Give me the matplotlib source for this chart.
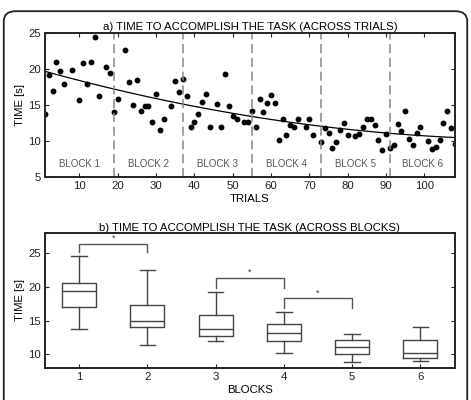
import numpy as np
import matplotlib
matplotlib.use("Agg")
import matplotlib.pyplot as plt
from matplotlib.patches import FancyBboxPatch

plt.rcParams['font.family'] = ['Liberation Sans', 'DejaVu Sans']

# time per trial (trials hidden in the picture are left out)
trials = [1, 2, 3, 4, 5, 6, 8, 10, 11, 12, 13, 14, 15, 17, 18, 19, 20, 22, 23, 24,
          25, 26, 27, 28, 29, 30, 31, 32, 34, 35, 36, 37, 38, 39, 40, 41, 42, 43, 44, 46,
          47, 48, 49, 50, 51, 53, 54, 55, 56, 57, 58, 59, 60, 61, 62, 63, 64, 65, 66, 67,
          69, 70, 71, 73, 74, 75, 76, 77, 78, 79, 80, 82, 83, 84, 85, 86, 87, 88, 89, 90,
          91, 92, 93, 94, 95, 96, 97, 98, 99, 101, 102, 103, 104, 105, 106, 107, 108]
times = [13.8, 19.1, 16.9, 21.0, 19.7, 17.9, 19.8, 15.7, 20.9, 17.85, 21.0, 24.5, 16.2, 20.3, 19.4, 14.0, 15.9, 22.6, 18.2, 15.0,
         18.45, 14.1, 14.8, 14.8, 12.7, 16.5, 11.5, 13.0, 14.9, 18.35, 16.8, 18.6, 16.3, 12.0, 12.7, 13.7, 15.4, 16.5, 12.0, 15.2,
         12.0, 19.3, 14.9, 13.5, 13.1, 12.6, 12.6, 14.1, 11.9, 15.9, 14.05, 15.3, 16.4, 15.3, 10.2, 13.0, 10.8, 12.2, 11.9, 13.0,
         11.9, 13.1, 10.8, 9.85, 11.8, 11.15, 9.05, 9.9, 11.5, 12.5, 10.8, 10.65, 10.95, 11.95, 13.0, 13.0, 12.2, 10.15, 8.75, 11.0,
         9.05, 9.4, 12.3, 11.35, 14.2, 10.3, 9.4, 11.1, 12.0, 10.0, 8.95, 9.2, 10.15, 12.55, 14.2, 11.85, 9.55]

block_edges = [19, 37, 55, 73, 91]
block_names = ["BLOCK 1", "BLOCK 2", "BLOCK 3", "BLOCK 4", "BLOCK 5", "BLOCK 6"]

# box statistics per block
blocks = [1, 2, 3, 4, 5, 6]
box_lo = [13.8, 11.4, 12.0, 10.15, 8.85, 9.0]
box_q1 = [17.05, 14.0, 12.7, 11.9, 10.05, 9.4]
box_med = [19.45, 15.0, 13.7, 13.1, 11.15, 10.25]
box_q3 = [20.65, 17.4, 15.85, 14.55, 12.1, 12.1]
box_hi = [24.6, 22.5, 19.3, 16.3, 13.0, 14.05]

# significance brackets (from block, to block, bar height, leg bottom)
sig_from = [1, 3, 4]
sig_to = [2, 4, 5]
sig_top = [26.4, 21.4, 18.3]
sig_leg = [25.2, 19.9, 16.9]

fig = plt.figure(figsize=(4.71, 4.0), dpi=100)
fig.patches.append(FancyBboxPatch((0.008, -0.05), 0.984, 1.022, boxstyle="round,pad=0,rounding_size=0.025",
                                  transform=fig.transFigure, fill=False, edgecolor="#222222", linewidth=1.3))

tick_fs = 8.2
# ---- a) across trials
ax1 = fig.add_axes([0.0955, 0.5575, 0.8705, 0.36])
ax1.plot(trials, times, 'o', color='black', markersize=3.2)
coef = np.polyfit(trials, times, 2)  # quadratic trend over all trials
xx = np.linspace(1, 108, 200)
ax1.plot(xx, np.polyval(coef, xx), color='black', linewidth=0.9)
for e in block_edges:
    ax1.axvline(e, color='#888888', linestyle=(0, (6, 3)), linewidth=1.1)
starts = [1] + block_edges
ends = block_edges + [108]
for s, e, name in zip(starts, ends, block_names):
    ax1.text((s + e) / 2, 6.8, name, ha='center', va='center', fontsize=7, color='#555555')
ax1.set_xlim(1, 108)
ax1.set_ylim(5, 25)
ax1.set_xticks([10, 20, 30, 40, 50, 60, 70, 80, 90, 100])
ax1.set_yticks([5, 10, 15, 20, 25])
ax1.set_xlabel("TRIALS", fontsize=tick_fs, labelpad=2)
ax1.set_ylabel("TIME [s]", fontsize=tick_fs, labelpad=2)
ax1.set_title("a) TIME TO ACCOMPLISH THE TASK (ACROSS TRIALS)", fontsize=tick_fs, pad=2)

# ---- b) across blocks
ax2 = fig.add_axes([0.0955, 0.0808, 0.8695, 0.336])
stats = []
for i in range(len(blocks)):
    stats.append({'whislo': box_lo[i], 'q1': box_q1[i], 'med': box_med[i],
                  'q3': box_q3[i], 'whishi': box_hi[i], 'fliers': []})
lc = '#444444'
ax2.bxp(stats, positions=blocks, widths=0.5, showfliers=False,
        boxprops=dict(color=lc, linewidth=1.0), medianprops=dict(color=lc, linewidth=1.0),
        whiskerprops=dict(color=lc, linewidth=1.0), capprops=dict(color=lc, linewidth=1.0),
        capwidths=0.23)
for a, b, top, leg in zip(sig_from, sig_to, sig_top, sig_leg):
    ax2.plot([a, a, b, b], [leg, top, top, leg], color='#555555', linewidth=1.0)
    ax2.text((a + b) / 2, top + 0.8, "*", ha='center', va='center', fontsize=6.5, color='#333333')
ax2.set_xlim(0.5, 6.5)
ax2.set_ylim(8, 28)
ax2.set_xticks(blocks)
ax2.set_xticklabels([str(b) for b in blocks])
ax2.set_yticks([10, 15, 20, 25])
ax2.set_xlabel("BLOCKS", fontsize=tick_fs, labelpad=2)
ax2.set_ylabel("TIME [s]", fontsize=tick_fs, labelpad=2)
ax2.set_title("b) TIME TO ACCOMPLISH THE TASK (ACROSS BLOCKS)", fontsize=tick_fs, pad=0)

for ax in (ax1, ax2):
    for sp in ax.spines.values():
        sp.set_linewidth(1.4)
        sp.set_color('#222222')
    ax.tick_params(direction='in', length=3, width=0.8, labelsize=tick_fs, colors='#222222',
                   top=True, right=True, pad=3)
ax2.tick_params(axis='x', top=False)

fig.savefig("out.png", dpi=100)
